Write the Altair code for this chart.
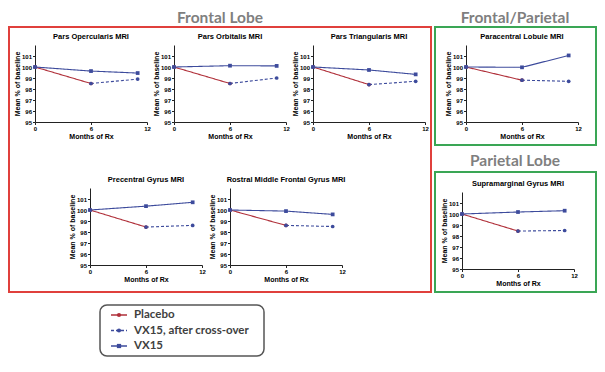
import altair as alt
import pandas as pd

# ---------------- data ----------------
regions = [
    "Pars Opercularis  MRI",
    "Pars Orbitalis  MRI",
    "Pars Triangularis  MRI",
    "Paracentral Lobule  MRI",
    "Precentral Gyrus MRI",
    "Rostral Middle Frontal Gyrus MRI",
    "Supramarginal Gyrus MRI",
]
months = [0, 6, 11]
start_values = [100.0, 100.0, 100.0, 100.0, 100.0, 100.0, 100.0]
placebo_6 = [98.5, 98.5, 98.4, 98.8, 98.45, 98.6, 98.45]
crossover_11 = [98.9, 99.0, 98.7, 98.7, 98.6, 98.5, 98.5]
vx15_6 = [99.63, 100.12, 99.73, 99.97, 100.35, 99.9, 100.18]
vx15_11 = [99.45, 100.1, 99.33, 101.05, 100.7, 99.6, 100.3]

series_names = ["Placebo", "VX15, after cross-over", "VX15"]
series_colors = ["#b0303a", "#3d4b9c", "#3d4b9c"]
series_dash = [[1, 0], [3, 2], [1, 0]]
series_shapes = ["circle", "circle", "square"]

x_ticks = [0, 6, 12]
y_ticks = [95, 96, 97, 98, 99, 100, 101]
group_titles = ["Frontal Lobe", "Frontal/Parietal", "Parietal Lobe"]

rows = []
for i, r in enumerate(regions):
    rows += [
        {"region": r, "series": series_names[0], "month": months[0], "value": start_values[i]},
        {"region": r, "series": series_names[0], "month": months[1], "value": placebo_6[i]},
        {"region": r, "series": series_names[1], "month": months[1], "value": placebo_6[i]},
        {"region": r, "series": series_names[1], "month": months[2], "value": crossover_11[i]},
        {"region": r, "series": series_names[2], "month": months[0], "value": start_values[i]},
        {"region": r, "series": series_names[2], "month": months[1], "value": vx15_6[i]},
        {"region": r, "series": series_names[2], "month": months[2], "value": vx15_11[i]},
    ]
df = pd.DataFrame(rows)

# ---------------- layout / style ----------------
W, H = 589, 350
PW, PH = 112, 77
# plot-area origin (left, top) of each panel, in chart pixels
panel_pos = [(27, 37), (166, 37), (305, 37), (458, 37), (82, 180), (222, 180), (454, 184)]
# group frames: x1, x2, y1, y2, colour
frames = [(1, 423, 19, 284, "#e0403c"), (427, 588, 19, 137, "#3aa655"), (427, 588, 164, 284, "#3aa655")]
# group titles: centre x, baseline y
group_title_pos = [(212, 15), (507, 15), (507, 158)]
legend_box = (92, 256, 297, 348)

color_scale = alt.Scale(domain=series_names, range=series_colors)
dash_scale = alt.Scale(domain=series_names, range=series_dash)
shape_scale = alt.Scale(domain=series_names, range=series_shapes)

one = pd.DataFrame({"k": [0]})
layers = []

for (x1, x2, y1, y2, c) in frames:
    layers.append(
        alt.Chart(one).mark_rect(fillOpacity=0, stroke=c, strokeWidth=2).encode(
            x=alt.value(x1), x2=alt.value(x2), y=alt.value(y1), y2=alt.value(y2))
    )

for t, (cx, by) in zip(group_titles, group_title_pos):
    layers.append(
        alt.Chart(pd.DataFrame({"t": [t]})).mark_text(
            font="Lato", fontSize=15.5, fontWeight="bold", color="#7f7f7f",
            align="center", baseline="alphabetic").encode(
            text="t:N", x=alt.value(cx), y=alt.value(by))
    )


def panel(i):
    x0, y0 = panel_pos[i]
    d = df[df.region == regions[i]]
    xs = alt.Scale(domain=[0, 12], range=[x0, x0 + PW], nice=False)
    ys = alt.Scale(domain=[95, 102], range=[y0 + PH, y0], nice=False, zero=False)
    base = alt.Chart(d).encode(
        x=alt.X("month:Q", scale=xs,
                axis=alt.Axis(values=x_ticks, title="Months of Rx", format="d",
                              orient="bottom", offset=y0 + PH - H)),
        y=alt.Y("value:Q", scale=ys,
                axis=alt.Axis(values=y_ticks, title="Mean % of baseline", format="d",
                              orient="left", offset=-x0)),
        color=alt.Color("series:N", scale=color_scale, legend=None),
    )
    lines = base.mark_line(strokeWidth=1.1).encode(
        strokeDash=alt.StrokeDash("series:N", scale=dash_scale, legend=None),
        detail="series:N",
    )
    pts = base.mark_point(filled=True, size=14, opacity=1).encode(
        shape=alt.Shape("series:N", scale=shape_scale, legend=None)
    )
    title = alt.Chart(pd.DataFrame({"t": [regions[i]]})).mark_text(
        font="Liberation Sans", fontSize=7.5, fontWeight="bold", color="black",
        align="center", baseline="alphabetic").encode(
        text="t:N", x=alt.value(x0 + PW / 2), y=alt.value(y0 - 6))
    return alt.layer(lines, pts, title)


for i in range(len(regions)):
    layers.append(panel(i))

# ---------------- legend ----------------
lx1, lx2, ly1, ly2 = legend_box
layers.append(
    alt.Chart(one).mark_rect(fillOpacity=0, stroke="#555555", strokeWidth=1.5, cornerRadius=7).encode(
        x=alt.value(lx1), x2=alt.value(lx2), y=alt.value(ly1), y2=alt.value(ly2))
)
leg_df = pd.DataFrame({"series": series_names})
ly = alt.Y("series:N", scale=alt.Scale(type="point", domain=series_names, padding=0,
                                        range=[ly1 + 10, ly2 - 10]), axis=None)
lc = alt.Color("series:N", scale=color_scale, legend=None)
seg = alt.Chart(leg_df).mark_rule(strokeWidth=1.3).encode(
    x=alt.value(lx1 + 11), x2=alt.value(lx1 + 27), y=ly, color=lc,
    strokeDash=alt.StrokeDash("series:N", scale=dash_scale, legend=None))
dot = alt.Chart(leg_df).mark_point(filled=True, size=18, opacity=1).encode(
    x=alt.value(lx1 + 19), y=ly, color=lc,
    shape=alt.Shape("series:N", scale=shape_scale, legend=None))
txt = alt.Chart(leg_df).mark_text(align="left", baseline="middle", font="Lato",
                                  fontWeight="bold", fontSize=11.5, color="#404040").encode(
    x=alt.value(lx1 + 34), y=ly, text="series:N")
layers.append(alt.layer(seg, dot, txt))

chart = (
    alt.layer(*layers)
    .resolve_scale(x="independent", y="independent")
    .resolve_axis(x="independent", y="independent")
    .properties(width=W, height=H, padding=0, background="white")
    .configure_view(strokeWidth=0)
    .configure_axis(
        labelFont="Liberation Sans", labelFontSize=6, labelFontWeight="bold", labelColor="black",
        titleFont="Liberation Sans", titleFontSize=7, titleFontWeight="bold", titleColor="black",
        domainColor="#222222", tickColor="#222222", tickSize=2.5, labelPadding=1,
        titlePadding=1, grid=False, labelFlush=False, labelOverlap=False,
    )
)

chart.save("out.html", embed_options={"renderer": "svg", "actions": False})
